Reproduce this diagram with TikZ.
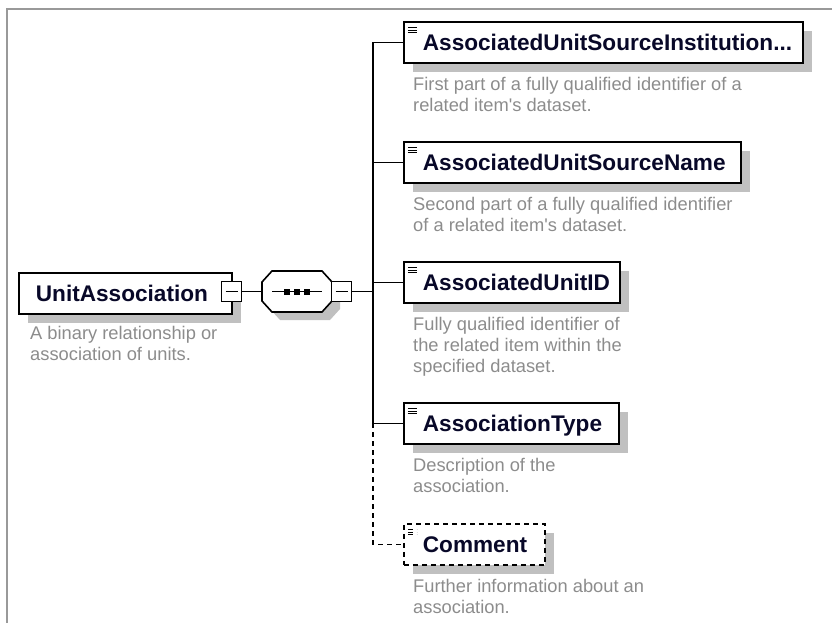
\documentclass[tikz,border=0pt]{standalone}
\usepackage{fontspec}
\setmainfont{Liberation Sans}
\usepackage{xcolor}
\usepackage{tikz}
\usetikzlibrary{shadows, positioning}
\definecolor{framecolor}{RGB}{153, 153, 153}
\definecolor{shadowcolor}{RGB}{192, 192, 192}
\definecolor{notecolor}{RGB}{140, 140, 140}
\definecolor{titlecolor}{RGB}{8, 8, 40}
\newcommand{\boxfont}{\bfseries\fontsize{22.6}{26}\selectfont\hyphenpenalty=10000}
\newcommand{\notefont}{\fontsize{18.3}{21}\selectfont}
\tikzstyle{basebox} = [rectangle, draw, line width=1.8pt, fill=white, anchor=north west, minimum height=41pt, inner xsep=0pt, inner ysep=0pt, align=left, text height=16pt, text depth=0pt, font=\boxfont, text=titlecolor, drop shadow={shadow xshift=9pt, shadow yshift=-9pt, fill=shadowcolor, opacity=1}]
\tikzstyle{rootelement} = [basebox, execute at begin node={\hspace*{17pt}}]
\tikzstyle{element} = [basebox, execute at begin node={\hspace*{19pt}}, path picture={\foreach \k in {0,1,2} \draw[line width=1.1pt] ([xshift=4pt, yshift=-5.5pt-2.7pt*\k]path picture bounding box.north west) -- ++(9pt,0);}]
\tikzstyle{optelement} = [element, dash pattern=on 5pt off 4pt]
\tikzstyle{note} = [anchor=north west, inner sep=0pt, align=left, font=\notefont, text=notecolor]
\tikzstyle{expander} = [rectangle, draw, line width=1.6pt, fill=white, minimum size=20pt, inner sep=0pt, path picture={\draw[line width=1.4pt] ([xshift=4pt]path picture bounding box.west) -- ([xshift=-4pt]path picture bounding box.east);}]
\tikzstyle{sequence} = [rectangle, minimum width=70pt, minimum height=41pt, inner sep=0pt]
\tikzstyle{link} = [line width=1.6pt]

\begin{document}
\begin{tikzpicture}[x=1pt, y=-1pt]
\useasboundingbox (0,0) rectangle (832,623);

% Cadre
\draw[framecolor, line width=2.5pt] (7,623) -- (7,9) -- (832,9);

% Racine
\node (ua) [rootelement, text width=213pt] at (18,272) {UnitAssociation};
\node (uanote) [note] at (30,326) {A binary relationship or\\association of units.};
\node (uaexp) [expander] at (231.5,291.5) {};

% Sequence
\node (seq) [sequence] at (297,291.5) {};
\fill[shadowcolor] ([shift={(8,8)}]seq.center) +(-25,-20.5) -- +(25,-20.5) -- +(35,-9.5) -- +(35,9.5) -- +(25,20.5) -- +(-25,20.5) -- +(-35,9.5) -- +(-35,-9.5) -- cycle;
\draw[link, fill=white] (seq.center) +(-25,-20.5) -- +(25,-20.5) -- +(35,-9.5) -- +(35,9.5) -- +(25,20.5) -- +(-25,20.5) -- +(-35,9.5) -- +(-35,-9.5) -- cycle;
\draw[link] ([xshift=-25pt]seq.center) -- ([xshift=25pt]seq.center);
\foreach \dx in {-10,0,10}
  \fill ([xshift=\dx pt]seq.center) +(-3,-3) rectangle +(3,3);
\node (seqexp) [expander] at (341.5,291.5) {};
\coordinate (trunk) at (373,291.5);

% Enfants
\node (inst) [element, text width=399pt] at (403,21) {AssociatedUnitSourceInstitution...};
\node (instnote) [note] at (413,77) {First part of a fully qualified identifier of a\\related item\textquotesingle s dataset.};

\node (srcname) [element, text width=337pt] at (403,141) {AssociatedUnitSourceName};
\node (srcnamenote) [note] at (413,197) {Second part of a fully qualified identifier\\of a related item\textquotesingle s dataset.};

\node (unitid) [element, text width=216pt] at (403,261) {AssociatedUnitID};
\node (unitidnote) [note] at (413,317) {Fully qualified identifier of\\the related item within the\\specified dataset.};

\node (assoctype) [element, text width=215pt] at (403,402) {AssociationType};
\node (assoctypenote) [note] at (413,458) {Description of the\\association.};

\node (comment) [optelement, text width=141pt] at (403,523) {Comment};
\node (commentnote) [note] at (413,579) {Further information about an\\association.};

% Liens
\draw[link] (uaexp) -- (seq);
\draw[link] (seqexp) -- (trunk);
\draw[link] (trunk |- inst.west) -- (trunk |- assoctype.west);
\foreach \n in {inst, srcname, unitid, assoctype}
  \draw[link] (trunk |- \n.west) -- (\n.west);
\draw[link, dash pattern=on 5pt off 4pt] (trunk |- assoctype.west) |- (comment.west);

\end{tikzpicture}
\end{document}
